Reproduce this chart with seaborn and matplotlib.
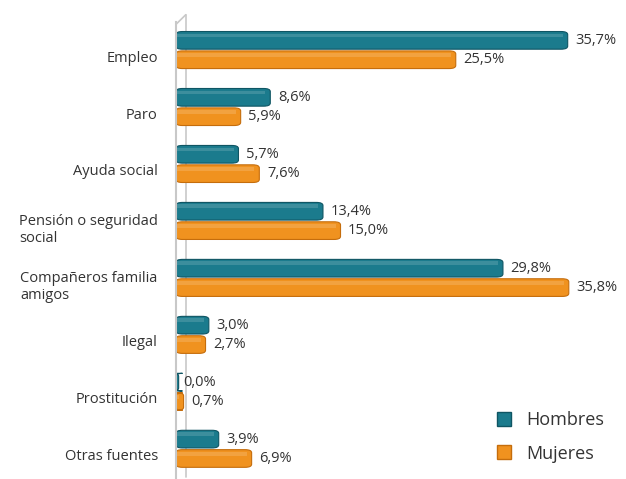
import pandas as pd
import matplotlib.pyplot as plt
import seaborn as sns
from matplotlib.patches import FancyBboxPatch
from matplotlib.lines import Line2D
from matplotlib.transforms import ScaledTranslation

categorias = ["Empleo", "Paro", "Ayuda social", "Pensión o seguridad\nsocial",
              "Compañeros familia\namigos", "Ilegal", "Prostitución", "Otras fuentes"]
hombres = [35.7, 8.6, 5.7, 13.4, 29.8, 3.0, 0.0, 3.9]
mujeres = [25.5, 5.9, 7.6, 15.0, 35.8, 2.7, 0.7, 6.9]
series = ["Hombres", "Mujeres"]
colores = {"Hombres": "#1b7b8d", "Mujeres": "#f0921f"}
bordes = {"Hombres": "#0f5563", "Mujeres": "#c56d0c"}

df = pd.DataFrame({
    "categoria": categorias * 2,
    "valor": hombres + mujeres,
    "serie": ["Hombres"] * len(categorias) + ["Mujeres"] * len(categorias),
})

sns.set_style("white")
plt.rcParams["font.family"] = ["Open Sans", "DejaVu Sans"]

fig = plt.figure(figsize=(6.26, 4.79), dpi=100)
ax = fig.add_axes([0.281, 0.0, 0.71, 0.955])

sns.barplot(data=df, y="categoria", x="valor", hue="serie", order=categorias,
            hue_order=series, palette=colores, orient="h", width=0.68,
            ax=ax, legend=False, saturation=1)

# rounded "cylinder" bars
for cont, s in zip(ax.containers, series):
    for p in list(cont.patches):
        x, y = p.get_x(), p.get_y()
        w, h = p.get_width(), p.get_height()
        p.set_visible(False)
        r = FancyBboxPatch((x, y + 0.015), max(w, 0.25), h - 0.03,
                           boxstyle="round,pad=0,rounding_size=0.6",
                           mutation_aspect=0.09,
                           facecolor=colores[s], edgecolor=bordes[s], lw=0.8)
        ax.add_patch(r)
        hl = FancyBboxPatch((x, y + h * 0.15), max(w - 0.45, 0.05), h * 0.2,
                            boxstyle="square,pad=0", facecolor="white",
                            alpha=0.15, edgecolor="none")
        ax.add_patch(hl)
    labels = [f"{v:.1f}%".replace(".", ",") for v in cont.datavalues]
    ax.bar_label(cont, labels=labels, padding=5.5, fontsize=10.5, color="#333333")

ax.set_xlim(0, 40.5)
ax.set_ylim(len(categorias) - 0.5 + 0.03, -0.5)
ax.set_xlabel("")
ax.set_ylabel("")
ax.set_xticks([])
ax.tick_params(axis="y", length=0, pad=13, labelsize=10.5, labelcolor="#333333")
shift = ScaledTranslation(0, -6 / 100, fig.dpi_scale_trans)
for t in ax.get_yticklabels():
    t.set_multialignment("left")
    t.set_transform(t.get_transform() + shift)
ax.set_yticks([i + 0.5 for i in range(-1, len(categorias))], minor=True)
ax.tick_params(axis="y", which="minor", length=5, color="#c8c8c8", width=1.2)

for side in ["top", "right", "bottom"]:
    ax.spines[side].set_visible(False)
ax.spines["left"].set_color("#c8c8c8")
ax.spines["left"].set_linewidth(1.5)

# back wall line
ax.plot([0.9, 0.9], [len(categorias) - 0.5, -0.62], color="#c8c8c8", lw=1.2,
        clip_on=False, zorder=0)
ax.plot([0, 0.9], [-0.45, -0.62], color="#c8c8c8", lw=1.2, clip_on=False, zorder=0)

handles = [Line2D([], [], marker="s", ls="none", markersize=10,
                  markerfacecolor=colores[s], markeredgecolor=bordes[s]) for s in series]
ax.legend(handles, series, loc="lower right", bbox_to_anchor=(1.0, 0.0),
          frameon=False, fontsize=13, labelspacing=0.85, handletextpad=0.25,
          labelcolor="#333333")

fig.savefig("out.png", dpi=100)
